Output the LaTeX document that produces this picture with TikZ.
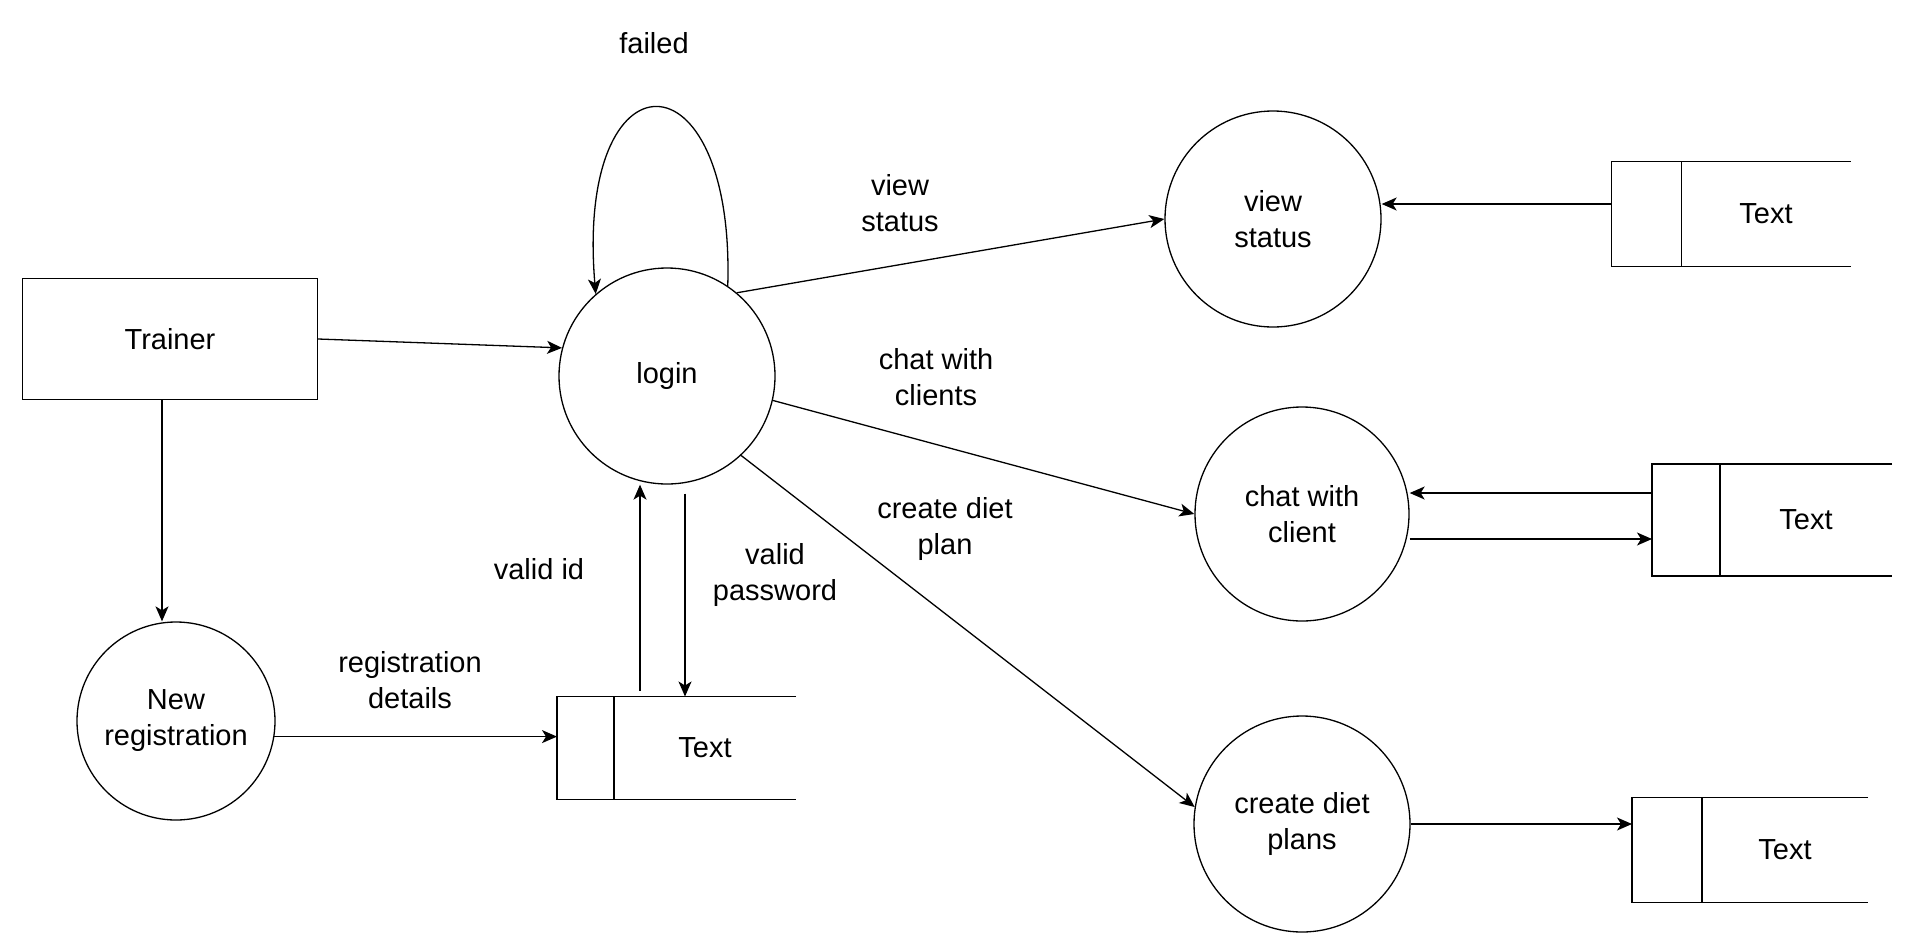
\documentclass[tikz,border=0pt]{standalone}
\usepackage{fontspec}
\setmainfont{Liberation Sans}
\usetikzlibrary{arrows.meta,positioning}

\begin{document}
\begin{tikzpicture}[x=1pt,y=-1pt,>={Stealth[length=15pt,width=13pt,inset=4pt]},
    line width=1.3pt,font=\fontsize{29}{36}\selectfont,
    proc/.style={circle,draw,align=center,inner sep=0pt,minimum size=216pt},
    actor/.style={rectangle,draw,minimum width=295pt,minimum height=121pt},
    store/.style={rectangle,inner sep=0pt,outer sep=0pt},
    tag/.style={rectangle,inner sep=0pt,outer sep=0pt},
    flow/.style={align=center}]
    \useasboundingbox (0,0) rectangle (1911,948);

    \node[actor]     (trainer)  at (170,339)     {Trainer};
    \node[proc]      (login)    at (667,376)     {login};
    \node[proc,minimum size=198pt] (newreg) at (176,721) {New\\registration};
    \node[proc]      (view)     at (1273,219)    {view\\status};
    \node[proc,minimum size=214pt] (chat) at (1302,514) {chat with\\client};
    \node[proc]      (diet)     at (1302,824)    {create diet\\plans};

    % data stores
    \node[store,minimum width=182pt,minimum height=103pt] (s1) at (705,748)  {Text};
    \node[tag,minimum width=57pt,minimum height=103pt]    (l1) [left=0pt of s1] {};
    \node[store,minimum width=169pt,minimum height=105pt] (s2) at (1766,214) {Text};
    \node[tag,minimum width=70pt,minimum height=105pt]    (l2) [left=0pt of s2] {};
    \node[store,minimum width=172pt,minimum height=112pt] (s3) at (1806,520) {Text};
    \node[tag,minimum width=68pt,minimum height=112pt]    (l3) [left=0pt of s3] {};
    \node[store,minimum width=166pt,minimum height=105pt] (s4) at (1785,850) {Text};
    \node[tag,minimum width=70pt,minimum height=105pt]    (l4) [left=0pt of s4] {};

    \draw (s1.north east) -- (l1.north west) -- (l1.south west) -- (s1.south east)
          (l1.north east) -- (l1.south east);
    \draw (s2.north east) -- (l2.north west) -- (l2.south west) -- (s2.south east)
          (l2.north east) -- (l2.south east);
    \draw (s3.north east) -- (l3.north west) -- (l3.south west) -- (s3.south east)
          (l3.north east) -- (l3.south east);
    \draw (s4.north east) -- (l4.north west) -- (l4.south west) -- (s4.south east)
          (l4.north east) -- (l4.south east);

    % flow labels
    \node[flow]      (lfail)    at (654,43)      {failed};
    \node[flow]      (lview)    at (900,203)     {view\\status};
    \node[flow]      (lchat)    at (936,377)     {chat with\\clients};
    \node[flow]      (ldiet)    at (945,529)     {create diet\\plan};
    \node[flow]      (lid)      at (539,569)     {valid id};
    \node[flow]      (lpass)    at (775,575)     {valid\\password};
    \node[flow]      (lreg)     at (410,680)     {registration\\details};

    \path[->]
      (trainer.east) edge (login.165)
      ([xshift=-8]trainer.south) edge ([xshift=-8]trainer.south |- newreg.north)
      (newreg.-9) edge (newreg.-9 -| l1.west)
      ([xshift=26,yshift=6]l1.north east) edge ([xshift=26]l1.north east |- login.south)
      ([xshift=71,yshift=-9]l1.north east |- login.south) edge ([xshift=71]l1.north east)
      (login.50) edge (view.west)
      ([yshift=10]l2.west) edge ([yshift=10]l2.west -| view.east)
      (login.-13) edge (chat.west)
      ([yshift=27]l3.west) edge ([yshift=27]l3.west -| chat.east)
      ([yshift=-19]l3.west -| chat.east) edge ([yshift=-19]l3.west)
      (login.-47) edge (diet.171)
      (diet.east) edge (diet.east -| l4.west);

    \draw[->] (login.56) .. controls (735,47) and (575,47) .. (login.131);
\end{tikzpicture}
\end{document}
